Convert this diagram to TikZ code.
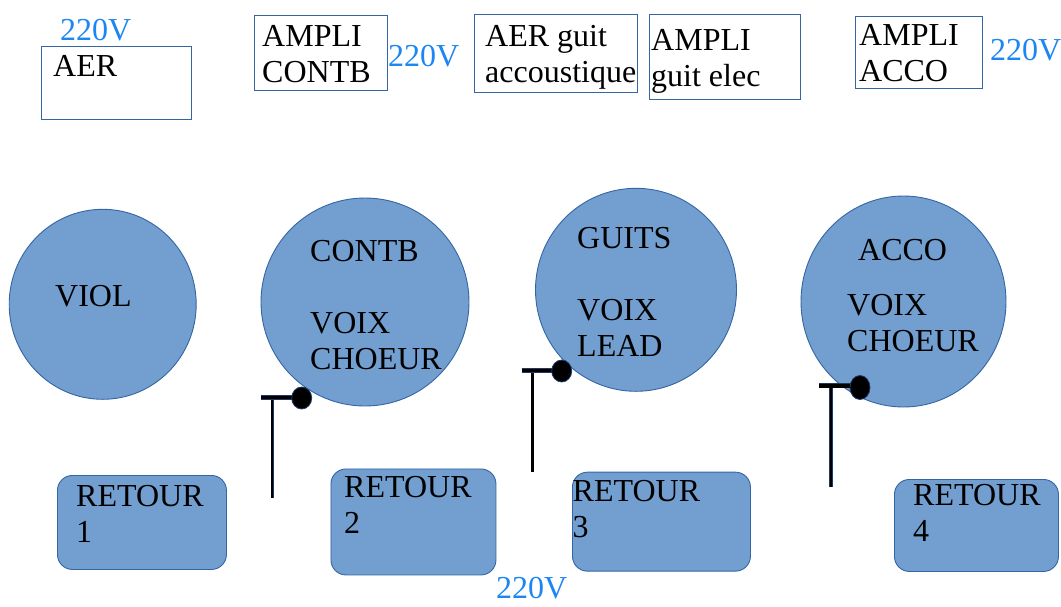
\documentclass[tikz,border=0pt]{standalone}
\usepackage{fontspec}
\setmainfont{Liberation Serif}
\usetikzlibrary{shapes.geometric}
\definecolor{fillblue}{HTML}{729FCF}
\definecolor{edgeblue}{HTML}{3465A4}
\definecolor{voltblue}{HTML}{1C86F2}
\definecolor{navy}{HTML}{1F3864}
\tikzset{
  txt/.style={font=\fontsize{32}{36}\selectfont, inner sep=0pt, anchor=base west},
  volt/.style={txt, text=voltblue},
  ampbox/.style={rectangle, draw=edgeblue, line width=0.9pt, fill=white, inner sep=0pt, anchor=north west},
  retbox/.style={rectangle, rounded corners=15pt, draw=edgeblue, line width=0.9pt, fill=fillblue, inner sep=0pt, anchor=north west},
  zone/.style={ellipse, draw=edgeblue, line width=0.9pt, fill=fillblue, inner sep=0pt},
  micdot/.style={ellipse, draw=navy, line width=0.8pt, fill=black, inner sep=0pt, minimum width=20pt, minimum height=22pt},
  micbar/.style={draw=navy, line width=5pt, postaction={draw=black, line width=3.4pt}},
  micpole/.style={draw=navy, line width=3.6pt, postaction={draw=black, line width=2.2pt}}
}
\newcommand{\twol}[2]{\begin{tabular}[t]{@{}l@{}}#1\\#2\end{tabular}}
\begin{document}
\begin{tikzpicture}[x=1pt,y=-1pt]
\useasboundingbox (0,0) rectangle (1061,606);

% top boxes
\node[ampbox, minimum width=150pt, minimum height=73pt] (aerbox) at (41,46) {};
\node[ampbox, minimum width=133pt, minimum height=75pt] (ampcontb) at (254,15) {};
\node[ampbox, minimum width=163pt, minimum height=78pt] (aerguit) at (474,14) {};
\node[ampbox, minimum width=151pt, minimum height=85pt] (ampelec) at (649,14) {};
\node[ampbox, minimum width=127pt, minimum height=72pt] (ampacco) at (855,16) {};

\node[txt] (taer) at (53,76) {AER};
\node[txt] (tampcontb) at (262,46.5) {\twol{AMPLI}{CONTB}};
\node[txt] (taerguit) at (485,46) {\twol{AER guit}{accoustique}};
\node[txt] (tampelec) at (651,50.5) {\twol{AMPLI}{guit elec}};
\node[txt] (tampacco) at (859,45.5) {\twol{AMPLI}{ACCO}};

\node[volt] (v1) at (60,40) {220V};
\node[volt] (v2) at (388,66) {220V};
\node[volt] (v3) at (990,60) {220V};
\node[volt] (v4) at (496,598) {220V};

% zones
\node[zone, minimum width=187pt, minimum height=190pt] (viol) at (102.7,304.3) {};
\node[zone, minimum width=208pt, minimum height=208pt] (contb) at (365,302) {};
\node[zone, minimum width=201pt, minimum height=203pt] (guits) at (636,289.8) {};
\node[zone, minimum width=205pt, minimum height=211pt] (acco) at (903.5,301.5) {};

\node[txt] (tviol) at (55,306.5) {VIOL};
\node[txt] (tcontb) at (310,261.7) {\begin{tabular}[t]{@{}l@{}}CONTB\\ \\VOIX\\CHOEUR\end{tabular}};
\node[txt] (tguits) at (577,248.3) {\begin{tabular}[t]{@{}l@{}}GUITS\\ \\VOIX\\LEAD\end{tabular}};
\node[txt] (tacco) at (858,260.7) {ACCO};
\node[txt] (tvoixc) at (847,315) {\twol{VOIX}{CHOEUR}};

% returns
\node[retbox, minimum width=169pt, minimum height=94pt] (ret1) at (57,475) {};
\node[retbox, minimum width=165pt, minimum height=106pt] (ret2) at (330.5,468.5) {};
\node[retbox, minimum width=178pt, minimum height=99pt] (ret3) at (572,471.7) {};
\node[retbox, minimum width=164pt, minimum height=92pt] (ret4) at (894,479) {};

\node[txt] (tret1) at (76,506) {\twol{RETOUR}{1}};
\node[txt] (tret2) at (344,497) {\twol{RETOUR}{2}};
\node[txt] (tret3) at (572.5,501) {\twol{RETOUR}{3}};
\node[txt] (tret4) at (913,505) {\twol{RETOUR}{4}};

% microphone stands
\coordinate (b1) at (261,397.5);
\coordinate (c1) at (298,397.5);
\coordinate (p1t) at (272.3,399);
\coordinate (p1b) at (272.3,498);
\draw[micpole] (p1t) -- (p1b);
\draw[micbar] (b1) -- (c1);
\node[micdot] (mic1) at (301.7,398) {};

\coordinate (b2) at (521.5,370.5);
\coordinate (c2) at (557,370.5);
\coordinate (p2t) at (532.5,372);
\coordinate (p2b) at (532.5,471.7);
\draw[micpole] (p2t) -- (p2b);
\draw[micbar] (b2) -- (c2);
\node[micdot] (mic2) at (561.7,371) {};

\coordinate (b3) at (819,385.8);
\coordinate (c3) at (855,385.8);
\coordinate (p3t) at (831,387);
\coordinate (p3b) at (831,487);
\draw[micpole] (p3t) -- (p3b);
\draw[micbar] (b3) -- (c3);
\node[micdot, minimum height=24pt] (mic3) at (860,387.5) {};
\end{tikzpicture}
\end{document}
